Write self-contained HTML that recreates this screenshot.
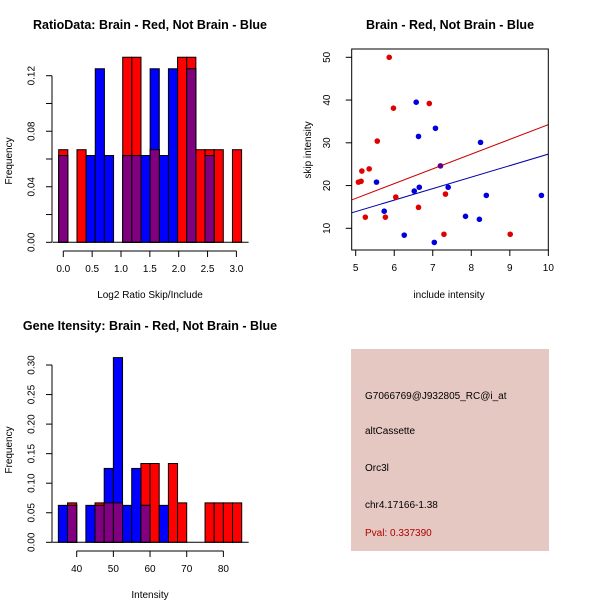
<!DOCTYPE html>
<html><head><meta charset="utf-8"><style>
body{margin:0;background:#fff;}
svg{display:block;font-family:"Liberation Sans",sans-serif;}
</style></head><body>
<svg id="c" width="600" height="600" xmlns="http://www.w3.org/2000/svg">
<rect x="0" y="0" width="600" height="600" fill="#fff"/>
<text x="150" y="29" font-size="12.5" font-weight="bold" text-anchor="middle">RatioData: Brain - Red, Not Brain - Blue</text>
<text x="450" y="29" font-size="12.5" font-weight="bold" text-anchor="middle">Brain - Red, Not Brain - Blue</text>
<text x="150" y="330" font-size="12.5" font-weight="bold" text-anchor="middle">Gene Itensity: Brain - Red, Not Brain - Blue</text>
<text x="150" y="298" font-size="10" text-anchor="middle">Log2 Ratio Skip/Include</text>
<text x="12" y="161" font-size="10" text-anchor="middle" transform="rotate(-90 12 161)">Frequency</text>
<text x="449" y="298" font-size="10" text-anchor="middle">include intensity</text>
<text x="311" y="150" font-size="10" text-anchor="middle" transform="rotate(-90 311 150)">skip intensity</text>
<text x="150" y="598" font-size="10" text-anchor="middle">Intensity</text>
<text x="12" y="450" font-size="10" text-anchor="middle" transform="rotate(-90 12 450)">Frequency</text>
<g>
<rect x="351" y="349" width="198" height="202" fill="#e5c8c2"/>
<text x="365" y="399" font-size="10">G7066769@J932805_RC@i_at</text>
<text x="365" y="434" font-size="10">altCassette</text>
<text x="365" y="471" font-size="10">Orc3l</text>
<text x="365" y="508" font-size="10">chr4.17166-1.38</text>
<text x="365" y="536" font-size="10" fill="#b00000">Pval: 0.337390</text>
</g>
</svg>
<script>
// Ratio histogram data (20 bins)
const ratioBinStart = -0.08;
const ratioBinWidth = 0.1585;
const ratioRed  = [0.0667,0,0.0667,0,0,0,0,0.1333,0.1333,0,0.0667,0,0,0.1333,0.1333,0.0667,0.0667,0.0667,0,0.0667];
const ratioBlue = [0.0625,0,0,0.0625,0.125,0.0625,0,0.0625,0.0625,0.0625,0.125,0.0625,0.125,0,0.125,0,0.0625,0,0,0];
const ratioXTicks = [0.0,0.5,1.0,1.5,2.0,2.5,3.0];
const ratioXLabels = ["0.0","0.5","1.0","1.5","2.0","2.5","3.0"];
const ratioYTicks = [0,0.02,0.04,0.06,0.08,0.10,0.12];
const ratioYLabels = ["0.00","","0.04","","0.08","","0.12"];
// Intensity histogram data (20 bins)
const intBinStart = 35;
const intBinWidth = 2.5;
const intRed  = [0,0.0667,0,0,0.0667,0.0667,0.0667,0,0,0.1333,0.1333,0,0.1333,0.0667,0,0,0.0667,0.0667,0.0667,0.0667];
const intBlue = [0.0625,0.0625,0,0.0625,0.0625,0.125,0.3125,0.0625,0.125,0.0625,0,0.0625,0,0,0,0,0,0,0,0];
const intXTicks = [40,50,60,70,80];
const intYTicks = [0,0.05,0.10,0.15,0.20,0.25,0.30];
const intYLabels = ["0.00","0.05","0.10","0.15","0.20","0.25","0.30"];
// Scatter data
const redX = [5.87,5.98,6.91,5.56,5.35,5.16,5.14,5.07,5.25,5.77,6.04,6.63,7.33,7.29,9.01,7.20];
const redY = [50,38.1,39.2,30.4,23.9,23.4,21.0,20.8,12.6,12.6,17.3,14.9,18.0,8.6,8.6,24.6];
const blueX = [6.57,7.07,6.63,8.24,5.54,6.52,6.65,7.40,5.74,6.26,7.04,7.85,8.21,8.39,9.82,7.20];
const blueY = [39.5,33.4,31.5,30.1,20.8,18.7,19.6,19.6,14.0,8.4,6.7,12.8,12.1,17.7,17.7,24.6];
const fitIntercept = [17.0-3.45*5, 13.9-2.69*5]; // red, blue
const fitSlope = [3.45, 2.69];
const scatterXTicks = [5,6,7,8,9,10];
const scatterYTicks = [10,20,30,40,50];

const svg = document.getElementById('c');
const NS = 'http://www.w3.org/2000/svg';
function mk(tag, attrs, parent){
  const e = document.createElementNS(NS, tag);
  for (const k in attrs) e.setAttribute(k, attrs[k]);
  (parent||svg).appendChild(e);
  return e;
}

function hist(opts){
  const {binStart,binWidth,red,blue,xs,ys,name,xTicks,xLabels,yTicks,yLabels,axisY,xAxisY} = opts;
  const g = mk('g', {});
  
  
  const draw = (vals, color, tag) => {
    vals.forEach((v,i)=>{
      if (v<=0) return;
      const x0 = xs(binStart+i*binWidth), x1 = xs(binStart+(i+1)*binWidth);
      const r = mk('rect', {x:x0, y:ys(v), width:x1-x0, height:ys(0)-ys(v), fill:color, stroke:'#000', 'stroke-width':1}, g);
      
      
    });
  };
  draw(red, '#ff0000', 'red');
  draw(blue, '#0000ff', 'blue');
  draw(red.map((v,i)=>Math.min(v, blue[i])), '#800080', 'overlap');
  const bl = mk('line', {x1:xs(binStart)-6, x2:xs(binStart+red.length*binWidth)+7, y1:ys(0), y2:ys(0), stroke:'#000'}, g);
  
  
  const ya = mk('g', {}, g);
  
  
  mk('line',{x1:axisY,x2:axisY,y1:ys(yTicks[0]),y2:ys(yTicks[yTicks.length-1]),stroke:'#000'},ya);
  yTicks.forEach((t,i)=>{
    mk('line',{x1:axisY-6,x2:axisY,y1:ys(t),y2:ys(t),stroke:'#000'},ya);
    if (yLabels[i]) {
      const tx = mk('text',{x:axisY-20,y:ys(t),'font-size':10,'text-anchor':'middle','dominant-baseline':'central',transform:`rotate(-90 ${axisY-20} ${ys(t)})`},ya);
      tx.textContent = yLabels[i];
    }
  });
  const xa = mk('g', {}, g);
  
  
  mk('line',{x1:xs(xTicks[0]),x2:xs(xTicks[xTicks.length-1]),y1:xAxisY,y2:xAxisY,stroke:'#000'},xa);
  xTicks.forEach((t,i)=>{
    mk('line',{x1:xs(t),x2:xs(t),y1:xAxisY,y2:xAxisY+6,stroke:'#000'},xa);
    const tx = mk('text',{x:xs(t),y:xAxisY+21,'font-size':10,'text-anchor':'middle'},xa);
    tx.textContent = xLabels[i];
  });
}

hist({binStart:ratioBinStart,binWidth:ratioBinWidth,red:ratioRed,blue:ratioBlue,
  xs:v=>63.3+v*57.7, ys:v=>242.3-v*(166.6/0.12), name:'ratio-histogram',
  xTicks:ratioXTicks,xLabels:ratioXLabels,yTicks:ratioYTicks,yLabels:ratioYLabels,axisY:52,xAxisY:251});

hist({binStart:intBinStart,binWidth:intBinWidth,red:intRed,blue:intBlue,
  xs:v=>76.7+(v-40)*3.667, ys:v=>542.3-v*(177.3/0.30), name:'intensity-histogram',
  xTicks:intXTicks,xLabels:intXTicks.map(String),yTicks:intYTicks,yLabels:intYLabels,axisY:52,xAxisY:551});

(function(){
  const sx = v=>355.7+(v-5)*38.53;
  const sy = v=>57.3+(50-v)*4.275;
  const g = mk('g',{});
  
  
  const left=351.7,right=548.3,top=49,bottom=250;
  const clip = mk('clipPath',{id:'sc'},g);
  mk('rect',{x:left,y:top,width:right-left,height:bottom-top},clip);
  const colors=['#cc0000','#0000aa'];
  fitIntercept.forEach((b,i)=>{
    const l = mk('line',{x1:sx(4.8),y1:sy(b+fitSlope[i]*4.8),x2:sx(10.2),y2:sy(b+fitSlope[i]*10.2),stroke:colors[i],'stroke-width':1,'clip-path':'url(#sc)'},g);
    
    
  });
  redX.forEach((x,i)=>{
    const c = mk('circle',{cx:sx(x),cy:sy(redY[i]),r:2.8,fill:'#e00000'},g);
    
    
  });
  blueX.forEach((x,i)=>{
    const c = mk('circle',{cx:sx(x),cy:sy(blueY[i]),r:2.8,fill:'#0000dd','fill-opacity':i===15?0.6:1},g);
    
    
  });
  const box = mk('rect',{x:left,y:top,width:right-left,height:bottom-top,fill:'none',stroke:'#000'},g);
  
  
  scatterXTicks.forEach(t=>{
    mk('line',{x1:sx(t),x2:sx(t),y1:bottom,y2:bottom+6,stroke:'#000'},g);
    const tx = mk('text',{x:sx(t),y:bottom+21,'font-size':10,'text-anchor':'middle'},g);
    tx.textContent = String(t);
  });
  scatterYTicks.forEach(t=>{
    mk('line',{x1:left-6,x2:left,y1:sy(t),y2:sy(t),stroke:'#000'},g);
    const tx = mk('text',{x:left-24,y:sy(t),'font-size':10,'text-anchor':'middle','dominant-baseline':'central',transform:`rotate(-90 ${left-24} ${sy(t)})`},g);
    tx.textContent = String(t);
  });
})();
</script>
</body></html>
